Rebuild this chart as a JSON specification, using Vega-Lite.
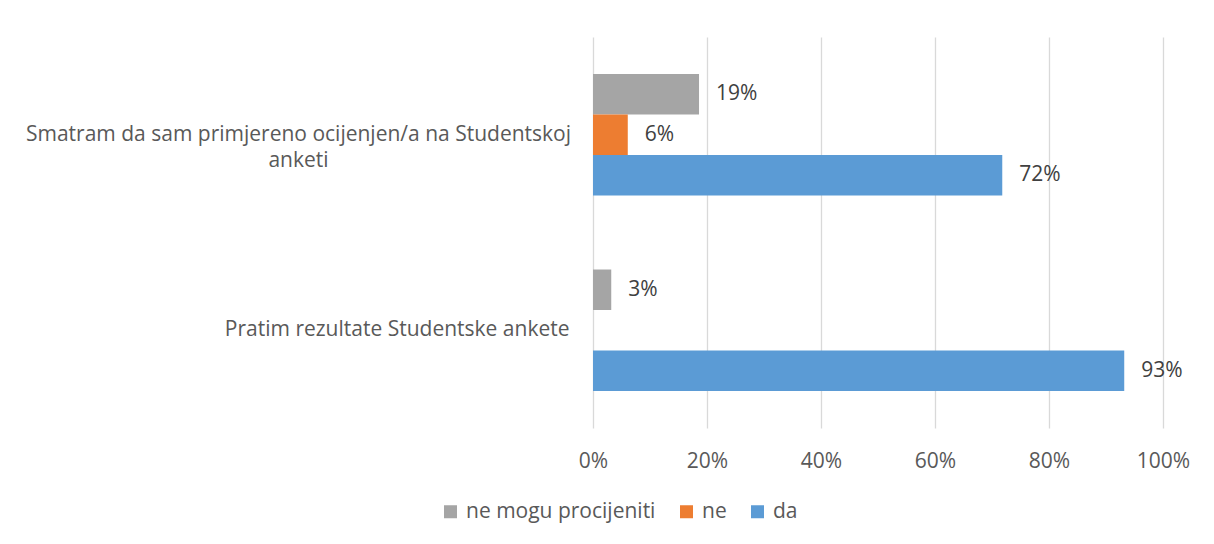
{
  "$schema": "https://vega.github.io/schema/vega-lite/v6.json",
  "width": 570,
  "height": 391,
  "autosize": {"type": "none"},
  "padding": {"left": 593, "top": 37, "right": 51, "bottom": 116},
  "background": "white",
  "config": {
    "view": {"stroke": null},
    "font": "Open Sans"
  },
  "data": {
    "values": [
      {"item": "Smatram da sam primjereno ocijenjen/a na Studentskoj anketi", "answer": "ne mogu procijeniti", "share": 0.186},
      {"item": "Smatram da sam primjereno ocijenjen/a na Studentskoj anketi", "answer": "ne", "share": 0.061},
      {"item": "Smatram da sam primjereno ocijenjen/a na Studentskoj anketi", "answer": "da", "share": 0.718},
      {"item": "Pratim rezultate Studentske ankete", "answer": "ne mogu procijeniti", "share": 0.032},
      {"item": "Pratim rezultate Studentske ankete", "answer": "da", "share": 0.932}
    ]
  },
  "encoding": {
    "y": {
      "field": "item",
      "type": "nominal",
      "sort": ["Smatram da sam primjereno ocijenjen/a na Studentskoj anketi", "Pratim rezultate Studentske ankete"],
      "scale": {"paddingInner": 0.3785, "paddingOuter": 0.189},
      "axis": {
        "title": null,
        "domain": false,
        "ticks": false,
        "labelFont": "Open Sans",
        "labelFontSize": 21,
        "labelColor": "#595959",
        "labelLimit": 700,
        "labelLineHeight": 26,
        "labelExpr": "datum.value == 'Smatram da sam primjereno ocijenjen/a na Studentskoj anketi' ? ['Smatram da sam primjereno ocijenjen/a na Studentskoj', 'anketi'] : datum.value",
        "labelAlign": {"condition": {"test": "datum.value == 'Smatram da sam primjereno ocijenjen/a na Studentskoj anketi'", "value": "center"}, "value": "right"},
        "labelPadding": {"condition": {"test": "datum.value == 'Smatram da sam primjereno ocijenjen/a na Studentskoj anketi'", "value": 295}, "value": 24}
      }
    },
    "yOffset": {
      "field": "answer",
      "type": "nominal",
      "sort": ["ne mogu procijeniti", "ne", "da"],
      "scale": {"domain": ["ne mogu procijeniti", "ne", "da"], "paddingInner": 0, "paddingOuter": 0}
    },
    "x": {
      "field": "share",
      "type": "quantitative",
      "scale": {"domain": [0, 1]},
      "axis": {
        "title": null,
        "format": ".0%",
        "values": [0, 0.2, 0.4, 0.6, 0.8, 1],
        "grid": true,
        "gridColor": "#D9D9D9",
        "gridWidth": 1.3,
        "domain": false,
        "ticks": false,
        "labelFont": "Open Sans",
        "labelFontSize": 21,
        "labelColor": "#595959",
        "labelPadding": 22,
        "labelFlush": false
      }
    }
  },
  "layer": [
    {
      "mark": {"type": "bar"},
      "encoding": {
        "color": {
          "field": "answer",
          "type": "nominal",
          "scale": {"domain": ["ne mogu procijeniti", "ne", "da"], "range": ["#A5A5A5", "#ED7D31", "#5B9BD5"]},
          "legend": {
            "orient": "none",
            "legendX": -153,
            "legendY": 464,
            "direction": "horizontal",
            "title": null,
            "symbolType": "square",
            "symbolSize": 169,
            "symbolStrokeWidth": 0,
            "labelFont": "Open Sans",
            "labelFontSize": 21,
            "labelColor": "#595959",
            "labelLimit": 400,
            "labelOffset": 5,
            "columnPadding": 20
          }
        }
      }
    },
    {
      "mark": {"type": "text", "align": "left", "baseline": "middle", "dx": 17, "font": "Open Sans", "fontSize": 21, "color": "#404040"},
      "encoding": {
        "text": {"field": "share", "type": "quantitative", "format": ".0%"}
      }
    }
  ]
}
